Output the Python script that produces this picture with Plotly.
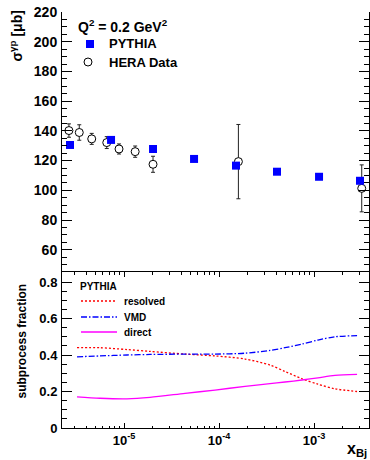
import plotly.graph_objects as go

# ---------------- data ----------------
pythia_x = [2.70e-6, 7.3e-6, 2.02e-5, 5.46e-5, 1.51e-4, 4.08e-4, 1.13e-3, 3.05e-3]
pythia_sigma = [130.5, 133.9, 127.8, 121.1, 116.6, 112.5, 109.1, 106.4]

hera_x = [2.63e-6, 3.38e-6, 4.57e-6, 6.58e-6, 8.86e-6, 1.31e-5, 2.02e-5, 1.60e-4, 3.18e-3]
hera_sigma = [140.2, 138.9, 134.6, 132.1, 127.8, 126.0, 117.5, 119.3, 101.3]
hera_err = [4.5, 5.2, 3.7, 4.0, 3.4, 3.8, 5.4, 25.0, 15.8]

frac_x = [3.20e-6, 5.59e-6, 1.075e-5, 1.878e-5, 4.39e-5, 9.08e-5, 1.878e-4,
          3.44e-4, 4.95e-4, 7.47e-4, 1.10e-3, 1.66e-3, 2.84e-3]
frac_resolved = [0.440, 0.440, 0.430, 0.420, 0.405, 0.395, 0.378, 0.345, 0.310, 0.270, 0.240, 0.215, 0.200]
frac_vmd = [0.390, 0.395, 0.400, 0.403, 0.405, 0.405, 0.410, 0.425, 0.440, 0.460, 0.482, 0.500, 0.506]
frac_direct = [0.171, 0.163, 0.160, 0.168, 0.190, 0.208, 0.228, 0.243, 0.252, 0.263, 0.275, 0.288, 0.294]

x_major = [1e-5, 1e-4, 1e-3]
x_major_text = ["10<sup>-5</sup>", "10<sup>-4</sup>", "10<sup>-3</sup>"]

# ---------------- layout helpers ----------------
W, H = 370, 460
L, R, T, B = 62, 1, 12, 32
PW, PH = W - L - R, H - T - B


def px(xp):
    return (xp - L) / PW


def py(yp):
    return (H - B - yp) / PH


split = py(272)
FONT = "Liberation Sans"

minor_log = [m * 10.0 ** e for e in range(-7, -1) for m in range(2, 10)]
major_log = [10.0 ** e for e in range(-7, -1)]

RED, BLUE, MAG = "#ff0000", "#0000ff", "#ff00ff"
VMD_DASH = "6px,2px,1.5px,2px"
RES_DASH = "2px,2px"

fig = go.Figure()

# top panel data (on overlay axis x3 sharing the lower-panel x scale)
fig.add_trace(go.Scatter(
    x=hera_x, y=hera_sigma, mode="markers", name="HERA Data",
    xaxis="x3", yaxis="y",
    error_y=dict(type="data", array=hera_err, color="#222222", thickness=1, width=2),
    marker=dict(symbol="circle", size=8, color="white", line=dict(color="black", width=1)),
))
fig.add_trace(go.Scatter(
    x=pythia_x, y=pythia_sigma, mode="markers", name="PYTHIA",
    xaxis="x3", yaxis="y",
    marker=dict(symbol="square", size=8, color=BLUE, line=dict(width=0)),
))

# lower panel curves
fig.add_trace(go.Scatter(
    x=frac_x, y=frac_resolved, mode="lines", name="resolved",
    xaxis="x2", yaxis="y2",
    line=dict(color=RED, width=1.3, dash=RES_DASH, shape="spline", smoothing=0.8),
))
fig.add_trace(go.Scatter(
    x=frac_x, y=frac_vmd, mode="lines", name="VMD",
    xaxis="x2", yaxis="y2",
    line=dict(color=BLUE, width=1.3, dash=VMD_DASH, shape="spline", smoothing=0.8),
))
fig.add_trace(go.Scatter(
    x=frac_x, y=frac_direct, mode="lines", name="direct",
    xaxis="x2", yaxis="y2",
    line=dict(color=MAG, width=1.3, shape="spline", smoothing=0.8),
))

lower_range = [-5.653, -2.421]
top_tick_range = [-4.556, -2.549]

axis_common = dict(showline=True, linecolor="black", linewidth=1, mirror="ticks",
                   ticks="inside", tickcolor="black", showgrid=False, zeroline=False)

fig.update_layout(
    width=W, height=H,
    margin=dict(l=L, r=R, t=T, b=B, pad=0),
    paper_bgcolor="white", plot_bgcolor="white",
    font=dict(family=FONT, color="black"),
    showlegend=False,
    xaxis=dict(type="log", range=top_tick_range, domain=[0, 1], anchor="y",
               tickvals=major_log, showticklabels=False, ticklen=7, tickwidth=1,
               minor=dict(tickvals=minor_log, ticklen=3.5, ticks="inside", tickcolor="black"),
               **axis_common),
    yaxis=dict(range=[45, 220], domain=[split, 1], anchor="x",
               tickvals=[60, 80, 100, 120, 140, 160, 180, 200, 220],
               tickfont=dict(family=FONT, size=14, weight="bold"),
               ticklen=10, ticklabelstandoff=1,
               minor=dict(dtick=5, ticklen=5, ticks="inside", tickcolor="black"),
               **axis_common),
    xaxis3=dict(type="log", range=lower_range, overlaying="x", anchor="y",
                visible=False),
    xaxis2=dict(type="log", range=lower_range, domain=[0, 1], anchor="y2",
                tickvals=x_major, ticktext=x_major_text,
                tickfont=dict(family=FONT, size=13, weight="bold"),
                ticklen=5, minor=dict(tickvals=minor_log, ticklen=2.5, ticks="inside", tickcolor="black"),
                **axis_common),
    yaxis2=dict(range=[0, 0.855], domain=[0, split], anchor="x2",
                tickvals=[0, 0.2, 0.4, 0.6, 0.8], ticktext=["0", "0.2", "0.4", "0.6", "0.8"],
                tickfont=dict(family=FONT, size=13, weight="bold"),
                ticklen=10, ticklabelstandoff=1,
                minor=dict(dtick=0.05, ticklen=5, ticks="inside", tickcolor="black"),
                **axis_common),
)


def note(text, x, y, size, xanchor="left", yanchor="middle", angle=0):
    fig.add_annotation(
        text=text, xref="paper", yref="paper", x=px(x), y=py(y),
        xanchor=xanchor, yanchor=yanchor, textangle=angle, showarrow=False,
        font=dict(family=FONT, size=size, weight="bold", color="black"),
    )


def key_line(y, color, dash):
    fig.add_shape(type="line", xref="paper", yref="paper",
                  x0=px(81), x1=px(117), y0=py(y), y1=py(y),
                  line=dict(color=color, width=1.3, dash=dash))


# axis titles
note("σ<sup>γp</sup> [μb]", 17, 9, 14, xanchor="center", yanchor="top", angle=-90)
note("subprocess fraction", 21, 282, 12, xanchor="center", yanchor="top", angle=-90)
note("x<sub>Bj</sub>", 369, 449, 16, xanchor="right")

# top legend
note("Q<sup>2</sup> = 0.2 GeV<sup>2</sup>", 76, 26, 14)
fig.add_shape(type="rect", xref="paper", yref="paper",
              x0=px(86), x1=px(94), y0=py(40), y1=py(48),
              fillcolor=BLUE, line=dict(width=0))
note("PYTHIA", 107, 44, 13)
fig.add_shape(type="circle", xref="paper", yref="paper",
              x0=px(84), x1=px(92), y0=py(58), y1=py(66),
              fillcolor="white", line=dict(color="black", width=1))
note("HERA Data", 107, 62, 13)

# lower legend
note("PYTHIA", 78, 286, 10)
key_line(301, RED, RES_DASH)
note("resolved", 122, 301, 10)
key_line(317, BLUE, VMD_DASH)
note("VMD", 122, 317, 10)
key_line(332, MAG, "solid")
note("direct", 122, 332, 10)

fig.write_html("out.html")
